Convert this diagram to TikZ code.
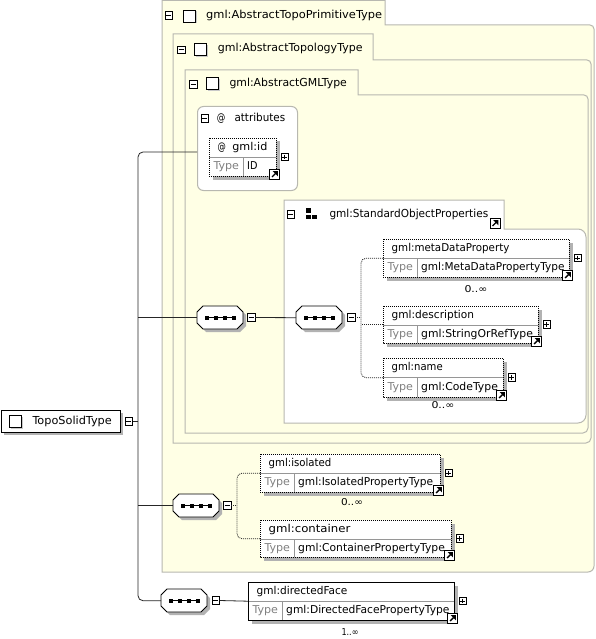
\documentclass[tikz,border=0pt]{standalone}
\usepackage{fontspec}
\usepackage{graphicx}
\newfontfamily\dvs{DejaVu Sans}
\usetikzlibrary{calc}
\definecolor{framefill}{RGB}{255,255,229}
\definecolor{framedraw}{RGB}{184,184,176}
\definecolor{shadowc}{RGB}{178,178,178}
\definecolor{typegray}{RGB}{128,128,128}
\definecolor{divc}{RGB}{150,150,150}
\tikzset{
  frame/.style={draw=framedraw, fill=framefill, line width=1pt},
  groupbox/.style={draw=framedraw, fill=white, line width=1pt},
  conn/.style={draw=black!85, line width=0.8pt},
  dotconn/.style={draw=black!85, line width=0.8pt, dash pattern=on 1pt off 1pt},
  txt/.style={font=\dvs\fontsize{10.8}{12}\selectfont, inner sep=0pt, text height=7.9pt, text depth=2.4pt},
  htxt/.style={font=\dvs\fontsize{11}{12}\selectfont, inner sep=0pt, text height=8pt, text depth=2.5pt},
  mult/.style={font=\dvs\fontsize{9.5}{10}\selectfont, inner sep=0pt},
  dotborder/.style={draw=black, line width=0.8pt, dash pattern=on 1pt off 1pt},
  solidborder/.style={draw=black, line width=0.9pt},
  iconbox/.style={draw=black, fill=white, line width=0.7pt, minimum size=7.5pt, inner sep=0pt},
  divline/.style={draw=divc, line width=0.7pt}
}
% text set to a given width (natural height kept)
\newcommand\tw[2]{\resizebox{#1pt}{\height}{#2}}
\newcommand\frameshape[9]{%
  \draw[#9] (#1,#2) -- (#3,#2) -- (#3,#4) -- (#5-#7,#4)
    .. controls (#5-0.45*#7,#4) and (#5,#4+0.45*#7) .. (#5,#4+#7)
    -- (#5,#6-#8) .. controls (#5,#6-0.45*#8) and (#5-0.45*#8,#6) .. (#5-#8,#6)
    -- (#1,#6) -- cycle;}
\newcommand\minusbox[3]{%
  \node[iconbox, anchor=west] (#1) at ({#2},{#3}) {};
  \draw[line width=0.7pt] ($(#1.west)+(1.7,0)$) -- ($(#1.east)+(-1.7,0)$);}
\newcommand\plusbox[3]{%
  \node[iconbox, anchor=west] (#1) at ({#2},{#3}) {};
  \draw[line width=0.7pt] ($(#1.west)+(1.7,0)$) -- ($(#1.east)+(-1.7,0)$);
  \draw[line width=0.7pt] ($(#1.north)+(0,1.7)$) -- ($(#1.south)+(0,-1.7)$);}
\newcommand\arrowicon[2]{%
  \filldraw[fill=white, draw=black, line width=0.8pt] ({#1},{#2}) rectangle ++(10,10);
  \draw[line width=1.4pt] ({#1+2.6},{#2+7.4}) -- ({#1+6},{#2+4});
  \fill ({#1+8.4},{#2+1.6}) -- ({#1+8.4},{#2+6.8}) -- ({#1+3.2},{#2+1.6}) -- cycle;}
\newcommand\typeicon[2]{%
  \fill[shadowc!70] ({#1+1.5},{#2+1.5}) rectangle ++(12,12);
  \filldraw[fill=white, draw=black, line width=0.9pt] ({#1},{#2}) rectangle ++(12,12);}
\newcommand\elem[8]{%
  \fill[shadowc] ({#2+3.5},{#3+3.5}) rectangle ({#4+3.5},{#5+3.5});
  \node[fill=white, inner sep=0pt, anchor=north west, minimum width={(#4-#2)*1pt}, minimum height={(#5-#3)*1pt}] (#1) at ({#2},{#3}) {};
  \draw[divline] ({#2},{#3+19.5}) -- ({#4},{#3+19.5});
  \draw[divline] ({#2+34.5},{#3+19.5}) -- ({#2+34.5},{#5});
  \draw[#8] ({#2},{#3}) rectangle ({#4},{#5});
  \node[txt, anchor=west] at ({#2+8.5},{#3+10}) {#6};
  \node[txt, anchor=west, text=typegray] at ({#2+4.3},{(#3+19.5+#5)/2}) {\tw{25.5}{Type}};
  \node[txt, anchor=west] at ({#2+38},{(#3+19.5+#5)/2}) {#7};
  \plusbox{#1p}{#4+4.5}{(#3+#5)/2}
  \arrowicon{#4-6.5}{#5-6.5}}
\newcommand\seqsym[3]{%
  \fill[shadowc] ({#2+9},{#3+3}) -- ({#2+43},{#3+3}) -- ({#2+49},{#3+9}) -- ({#2+49},{#3+20}) -- ({#2+43},{#3+26}) -- ({#2+9},{#3+26}) -- ({#2+3},{#3+20}) -- ({#2+3},{#3+9}) -- cycle;
  \filldraw[fill=white, draw=black, line width=0.8pt] ({#2+6},{#3}) -- ({#2+40},{#3}) -- ({#2+46},{#3+6}) -- ({#2+46},{#3+17}) -- ({#2+40},{#3+23}) -- ({#2+6},{#3+23}) -- ({#2},{#3+17}) -- ({#2},{#3+6}) -- cycle;
  \node[inner sep=0pt, minimum width=46pt, minimum height=23pt, anchor=north west] (#1) at ({#2},{#3}) {};
  \draw[line width=0.8pt] ({#2+8},{#3+11.5}) -- ({#2+39},{#3+11.5});
  \foreach \k in {0,1,2,3} {\fill ({#2+8+9*\k},{#3+9.5}) rectangle ++(4,4);}}
\begin{document}
\begin{tikzpicture}[x=1pt,y=-1pt]
\useasboundingbox (0,0) rectangle (596,639);
\fill[white] (0,0) rectangle (596,639);
% nested frames
\frameshape{162}{0.5}{385}{25}{594}{572}{4}{6}{frame}
\frameshape{173}{34}{373}{60}{591}{443}{4}{5}{frame}
\frameshape{185}{70}{358}{95}{588}{433}{4}{5}{frame}
% headers
\minusbox{f1m}{164.5}{15.6}
\typeicon{183}{10}
\node[htxt, anchor=west] (f1t) at (206,15.3) {\tw{176}{gml:AbstractTopoPrimitiveType}};
\minusbox{f2m}{177}{49.7}
\typeicon{194.3}{43.5}
\node[htxt, anchor=west] (f2t) at (217.7,49.2) {\tw{144.6}{gml:AbstractTopologyType}};
\minusbox{f3m}{189}{84.5}
\typeicon{206}{77.5}
\node[htxt, anchor=west] (f3t) at (229.3,84.2) {\tw{117.4}{gml:AbstractGMLType}};
% attributes group
\node[groupbox, rounded corners=6pt, anchor=north west, minimum width=100pt, minimum height=84pt, inner sep=0pt] (attrs) at (197,106) {};
\minusbox{atm}{200.7}{118.3}
\node[htxt, anchor=west] (atat) at (216.7,119.2) {\tw{8.5}{@}};
\node[htxt, anchor=west] (att) at (234.3,119.2) {\tw{50.7}{attributes}};
\coordinate (attrin) at (197,152);
\elem{gid}{209}{138}{276}{176}{\tw{8.3}{@}\hspace{6.4pt}\tw{35}{gml:id}}{\tw{10.3}{ID}}{dotborder}
% standard object properties group
\frameshape{284}{200}{504}{229}{586}{423}{8}{8}{groupbox}
\minusbox{sopm}{286.7}{214.5}
\fill (306,208.3) rectangle (310.5,212.7);
\fill (306,214.5) rectangle (310.5,219);
\fill (312.3,214.5) rectangle (316.8,219);
\node[htxt, anchor=west] (sopt) at (329.3,215) {\tw{158.7}{gml:StandardObjectProperties}};
\arrowicon{490}{218.5}
% elements
\elem{meta}{383}{239}{569}{277}{\tw{117.7}{gml:metaDataProperty}}{\tw{143.3}{gml:MetaDataPropertyType}}{dotborder}
\node[mult] (metam) at (476,289) {\tw{23}{0..∞}};
\elem{desc}{383}{306}{538}{343}{\tw{82.3}{gml:description}}{\tw{111.7}{gml:StringOrRefType}}{dotborder}
\elem{name}{383}{358}{503}{397}{\tw{51}{gml:name}}{\tw{76.7}{gml:CodeType}}{dotborder}
\node[mult] (namem) at (443,405) {\tw{23}{0..∞}};
\elem{iso}{260}{454}{440}{492}{\tw{62.7}{gml:isolated}}{\tw{135}{gml:IsolatedPropertyType}}{dotborder}
\node[mult] (isom) at (352,502) {\tw{22}{0..∞}};
\elem{cont}{260}{520}{451}{557}{\tw{81.7}{gml:container}}{\tw{146.7}{gml:ContainerPropertyType}}{dotborder}
\elem{df}{248}{582}{454}{620}{\tw{90.7}{gml:directedFace}}{\tw{163.3}{gml:DirectedFacePropertyType}}{solidborder}
\node[mult] (dfm) at (350,632) {\tw{17}{1..∞}};
% sequences
\seqsym{seq1}{197}{306}
\minusbox{s1m}{247}{317.5}
\seqsym{seq2}{296}{306}
\minusbox{s2m}{347}{317.5}
\seqsym{seq3}{173}{494}
\minusbox{s3m}{223}{505.5}
\seqsym{seq4}{161}{589}
\minusbox{s4m}{211.5}{600.5}
% root
\fill[shadowc] (3.5,413) rectangle (123,435);
\node[draw=black, line width=0.9pt, fill=white, inner sep=0pt, anchor=north west, minimum width=119.5pt, minimum height=22pt] (tst) at (0.5,410) {};
\typeicon{9}{415}
\node[htxt, anchor=west] (tstt) at (32.3,421.5) {\tw{79.3}{TopoSolidType}};
\minusbox{tstm}{124.5}{421.2}
% connectors
\coordinate (tr) at (138,421.2);
\draw[conn] (tstm.east) -- (tr);
\draw[conn, rounded corners=5pt] (attrin) -| (tr) |- (seq4.west);
\draw[conn] (tr |- seq1.west) -- (seq1.west);
\draw[conn] (tr |- seq3.west) -- (seq3.west);
\draw[conn] (s1m.east) -- (seq2.west);
\coordinate (b1) at (361,317.5);
\draw[dotconn] (s2m.east) -- (b1);
\draw[dotconn, rounded corners=5pt] (meta.west) -| (b1) |- (name.west);
\draw[dotconn] (desc.west) -- (desc.west -| b1);
\coordinate (b2) at (237,505.5);
\draw[dotconn] (s3m.east) -- (b2);
\draw[dotconn, rounded corners=5pt] (iso.west) -| (b2) |- (cont.west);
\draw[conn] (s4m.east) -- (df.west);
\end{tikzpicture}
\end{document}
